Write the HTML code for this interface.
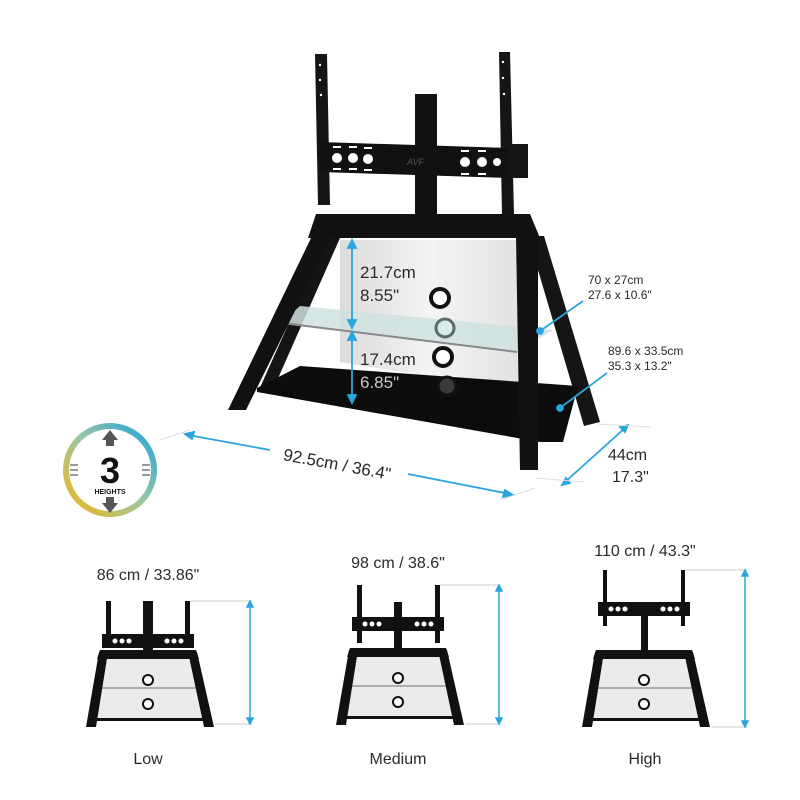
<!DOCTYPE html>
<html><head><meta charset="utf-8"><style>
html,body{margin:0;padding:0;background:#fff}
svg{display:block}
text{font-family:"Liberation Sans",sans-serif;fill:#2a2a2a}
</style></head><body>
<svg width="800" height="800" viewBox="0 0 800 800" xmlns="http://www.w3.org/2000/svg">
<defs>
<linearGradient id="pan" x1="0" y1="0" x2="1" y2="0"><stop offset="0" stop-color="#dcdcdc"/><stop offset="0.5" stop-color="#f4f4f4"/><stop offset="1" stop-color="#e2e2e2"/></linearGradient>
<linearGradient id="ring" x1="0" y1="1" x2="1" y2="0"><stop offset="0" stop-color="#f2b61c"/><stop offset="0.5" stop-color="#9ec7a0"/><stop offset="1" stop-color="#1fa3e0"/></linearGradient>
<g id="frame">
  <polygon points="-44,8 44,8 56,70 -56,70" fill="#ebebeb"/>
  <line x1="-50" y1="38" x2="50" y2="38" stroke="#999" stroke-width="1.5"/>
  <polygon points="-56,68 56,68 57,71 -57,71" fill="#111"/>
  <polygon points="-49,2 -40,2 -52,77 -62,77" fill="#111"/>
  <polygon points="40,2 49,2 66,77 56,77" fill="#111"/>
  <polygon points="-48,0 48,0 51,9 -51,9" fill="#111"/>
  <circle cx="0" cy="30" r="5" fill="#fff" stroke="#111" stroke-width="2"/>
  <circle cx="0" cy="54" r="5" fill="#fff" stroke="#111" stroke-width="2"/>
</g>
<g id="cross">
  <rect x="-46" y="0" width="92" height="14" fill="#111"/>
  <g fill="#fff"><circle cx="-33" cy="7" r="2.5"/><circle cx="-26" cy="7" r="2.5"/><circle cx="-19" cy="7" r="2.5"/><circle cx="19" cy="7" r="2.5"/><circle cx="26" cy="7" r="2.5"/><circle cx="33" cy="7" r="2.5"/></g>
</g>
</defs>

<!-- MAIN STAND -->
<polygon points="340,240 522,240 522,392 340,362" fill="url(#pan)"/>
<polygon points="327,238 340,238 272,392 258,392" fill="#151515"/>
<polygon points="528,236 544,236 600,422 584,426" fill="#151515"/>
<!-- black shelf -->
<polygon points="257,388 300,366 578,386 563,442 540,442 257,392" fill="#0c0c0c"/>
<circle cx="447" cy="386" r="9" fill="#3a3a3a" stroke="#111" stroke-width="3"/>
<!-- glass shelf -->
<polygon points="282,322 300,306 553,330 517,352" fill="#cfe2e0" opacity="0.85"/>
<line x1="282" y1="323" x2="517" y2="352" stroke="#888" stroke-width="2"/>
<circle cx="440" cy="298" r="9" fill="#fff" stroke="#111" stroke-width="4"/>
<circle cx="445" cy="328" r="9" fill="#d9ecea" stroke="#5a6b6a" stroke-width="3"/>
<circle cx="443" cy="357" r="9" fill="#fff" stroke="#111" stroke-width="4"/>
<polygon points="312,236 332,236 246,410 228,410" fill="#111"/>
<polygon points="516,236 538,236 538,470 520,470" fill="#111"/>
<polygon points="316,214 530,214 540,238 308,238" fill="#111"/>
<rect x="415" y="94" width="22" height="125" fill="#111"/>
<polygon points="315,54 327,54 330,205 318,205" fill="#151515"/>
<polygon points="499,52 510,52 514,215 502,215" fill="#151515"/>
<g fill="#fff"><circle cx="320" cy="65" r="1.2"/><circle cx="320" cy="80" r="1.2"/><circle cx="321" cy="95" r="1.2"/><circle cx="503" cy="62" r="1.2"/><circle cx="503" cy="78" r="1.2"/><circle cx="504" cy="94" r="1.2"/></g>
<polygon points="320,142 510,148 510,178 320,172" fill="#111"/>
<rect x="508" y="144" width="20" height="34" fill="#151515"/>
<g fill="#fff"><circle cx="337" cy="158" r="5"/><circle cx="353" cy="158" r="5"/><circle cx="368" cy="159" r="5"/><circle cx="465" cy="162" r="5"/><circle cx="482" cy="162" r="5"/><circle cx="497" cy="162" r="4"/>
<rect x="333" y="146" width="8" height="2"/><rect x="349" y="146" width="8" height="2"/><rect x="364" y="147" width="8" height="2"/><rect x="333" y="168" width="8" height="2"/><rect x="349" y="168" width="8" height="2"/><rect x="364" y="169" width="8" height="2"/>
<rect x="461" y="150" width="8" height="2"/><rect x="478" y="150" width="8" height="2"/><rect x="461" y="173" width="8" height="2"/><rect x="478" y="173" width="8" height="2"/></g>
<text x="407" y="165" font-size="9" font-style="italic" style="fill:#555">AVF</text>

<g stroke="#2aa5dd" stroke-width="1.8" fill="#2aa5dd">
<line x1="352" y1="245" x2="352" y2="324"/><polygon points="352,240 348,248 356,248"/><polygon points="352,328 348,320 356,320"/>
<line x1="352" y1="336" x2="352" y2="398"/><polygon points="352,332 348,340 356,340"/><polygon points="352,403 348,395 356,395"/>
<line x1="540" y1="331" x2="583" y2="301"/><circle cx="540" cy="331" r="3"/>
<line x1="560" y1="408" x2="607" y2="373"/><circle cx="560" cy="408" r="3"/>
<line x1="188" y1="435" x2="270" y2="450"/><line x1="408" y1="474" x2="510" y2="494"/>
<polygon points="185,434 194,432 192,439"/><polygon points="513,495 505,490 503,497"/>
<line x1="565" y1="482" x2="625" y2="428"/><polygon points="562,485 570,483 566,478"/><polygon points="628,425 620,427 625,432"/>
</g>
<g stroke="#ddd" stroke-width="1"><line x1="160" y1="440" x2="190" y2="430"/><line x1="500" y1="500" x2="535" y2="488"/><line x1="598" y1="424" x2="650" y2="427"/><line x1="535" y1="478" x2="585" y2="482"/></g>
<g font-size="17"><text x="360" y="278">21.7cm</text><text x="360" y="301">8.55"</text><text x="360" y="365">17.4cm</text><text x="360" y="388" style="fill:#c8c8c8">6.85"</text></g>
<g font-size="12"><text x="588" y="284">70 x 27cm</text><text x="588" y="299">27.6 x 10.6"</text><text x="608" y="355">89.6 x 33.5cm</text><text x="608" y="370">35.3 x 13.2"</text></g>
<text x="337" y="470" font-size="17" text-anchor="middle" transform="rotate(10.5 337 465)">92.5cm  /  36.4"</text>
<g font-size="16"><text x="608" y="460">44cm</text><text x="612" y="482">17.3"</text></g>

<circle cx="110" cy="470" r="44" fill="#fff" stroke="url(#ring)" stroke-width="6"/>
<text x="110" y="483" font-size="36" font-weight="bold" text-anchor="middle" style="fill:#111">3</text>
<text x="110" y="494" font-size="7" font-weight="bold" text-anchor="middle" style="fill:#111">HEIGHTS</text>
<polygon points="110,430 102,440 118,440" fill="#555"/><rect x="106" y="440" width="8" height="6" fill="#555"/>
<polygon points="110,513 102,503 118,503" fill="#555"/><rect x="106" y="497" width="8" height="6" fill="#555"/>
<g stroke="#555" stroke-width="1.2"><line x1="70" y1="465" x2="78" y2="465"/><line x1="70" y1="470" x2="78" y2="470"/><line x1="70" y1="475" x2="78" y2="475"/><line x1="142" y1="465" x2="150" y2="465"/><line x1="142" y1="470" x2="150" y2="470"/><line x1="142" y1="475" x2="150" y2="475"/></g>

<g transform="translate(148,0)">
<rect x="-5" y="601" width="10" height="50" fill="#111"/>
<rect x="-42" y="601" width="5" height="38" fill="#111"/><rect x="37" y="601" width="5" height="38" fill="#111"/>
<use href="#cross" y="634"/>
<use href="#frame" y="650"/>
</g>
<g transform="translate(398,0)">
<rect x="-4" y="602" width="8" height="48" fill="#111"/>
<rect x="-41" y="585" width="5" height="58" fill="#111"/><rect x="37" y="585" width="5" height="58" fill="#111"/>
<use href="#cross" y="617"/>
<use href="#frame" y="648"/>
</g>
<g transform="translate(644,0)">
<rect x="-3" y="612" width="7" height="40" fill="#111"/>
<rect x="-41" y="570" width="4" height="56" fill="#111"/><rect x="37" y="570" width="4" height="56" fill="#111"/>
<use href="#cross" y="602"/>
<use href="#frame" y="650"/>
</g>

<g stroke="#ccc" stroke-width="1">
<line x1="190" y1="601" x2="252" y2="601"/><line x1="215" y1="724" x2="252" y2="724"/>
<line x1="440" y1="585" x2="500" y2="585"/><line x1="465" y1="724" x2="500" y2="724"/>
<line x1="685" y1="570" x2="747" y2="570"/><line x1="712" y1="727" x2="747" y2="727"/>
</g>
<g stroke="#2aa5dd" stroke-width="1.5" fill="#2aa5dd">
<line x1="250" y1="604" x2="250" y2="721"/><polygon points="250,601 247,607 253,607"/><polygon points="250,724 247,718 253,718"/>
<line x1="499" y1="588" x2="499" y2="721"/><polygon points="499,585 496,591 502,591"/><polygon points="499,724 496,718 502,718"/>
<line x1="745" y1="573" x2="745" y2="724"/><polygon points="745,570 742,576 748,576"/><polygon points="745,727 742,721 748,721"/>
</g>
<g font-size="16" text-anchor="middle">
<text x="148" y="580">86 cm / 33.86"</text>
<text x="398" y="568">98 cm / 38.6"</text>
<text x="645" y="556">110 cm / 43.3"</text>
<text x="148" y="764">Low</text>
<text x="398" y="764">Medium</text>
<text x="645" y="764">High</text>
</g>
</svg>
</body></html>
